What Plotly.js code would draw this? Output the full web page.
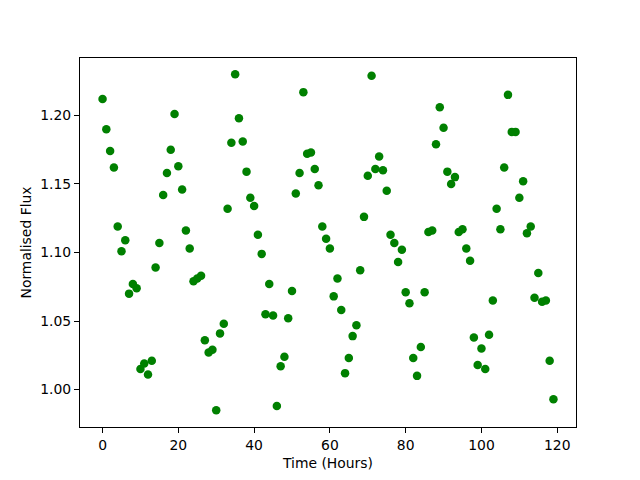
<!DOCTYPE html>
<html>
<head>
<meta charset="utf-8">
<script src="https://cdn.plot.ly/plotly-3.0.1.min.js"></script>
<style>html,body{margin:0;padding:0;background:#fff;}</style>
</head>
<body>
<div id="chart" style="width:640px;height:480px;"></div>
<script>
const timeHours = Array.from({length: 120}, (_, i) => i);
const normFlux = [
  1.212, 1.190, 1.174, 1.162, 1.119, 1.101, 1.109, 1.070, 1.077, 1.074,
  1.015, 1.019, 1.011, 1.021, 1.089, 1.107, 1.142, 1.158, 1.175, 1.201,
  1.163, 1.146, 1.116, 1.103, 1.079, 1.081, 1.083, 1.036, 1.027, 1.029,
  0.985, 1.041, 1.048, 1.132, 1.180, 1.230, 1.198, 1.181, 1.159, 1.140,
  1.134, 1.113, 1.099, 1.055, 1.077, 1.054, 0.988, 1.017, 1.024, 1.052,
  1.072, 1.143, 1.158, 1.217, 1.172, 1.173, 1.161, 1.149, 1.119, 1.110,
  1.103, 1.068, 1.081, 1.058, 1.012, 1.023, 1.039, 1.047, 1.087, 1.126,
  1.156, 1.229, 1.161, 1.170, 1.160, 1.145, 1.113, 1.107, 1.093, 1.102,
  1.071, 1.063, 1.023, 1.010, 1.031, 1.071, 1.115, 1.116, 1.179, 1.206,
  1.191, 1.159, 1.150, 1.155, 1.115, 1.117, 1.103, 1.094, 1.038, 1.018,
  1.030, 1.015, 1.040, 1.065, 1.132, 1.117, 1.162, 1.215, 1.188, 1.188,
  1.140, 1.152, 1.114, 1.119, 1.067, 1.085, 1.064, 1.065, 1.021, 0.993
];
const xTicks = [0, 20, 40, 60, 80, 100, 120];
const yTicks = [1.00, 1.05, 1.10, 1.15, 1.20];

const font = {family: 'DejaVu Sans', size: 13.9, color: '#000'};
const axisCommon = {
  showline: true, linecolor: '#000', linewidth: 1, mirror: true,
  ticks: 'outside', ticklen: 5, tickwidth: 1, tickcolor: '#000',
  showgrid: false, zeroline: false, tickfont: font
};
Plotly.newPlot('chart', [{
  x: timeHours, y: normFlux, type: 'scatter', mode: 'markers',
  marker: {color: '#008000', size: 8.5}
}], {
  width: 640, height: 480,
  margin: {l: 80, r: 64, t: 58, b: 53},
  paper_bgcolor: '#fff', plot_bgcolor: '#fff',
  font: font, showlegend: false,
  xaxis: Object.assign({}, axisCommon, {
    range: [-5.95, 124.95], tickvals: xTicks, ticktext: xTicks.map(String),
    title: {text: 'Time (Hours)', font: font, standoff: 6}
  }),
  yaxis: Object.assign({}, axisCommon, {
    range: [0.9727, 1.2419], tickvals: yTicks, ticktext: yTicks.map(v => v.toFixed(2)),
    title: {text: 'Normalised Flux', font: font, standoff: 5}
  })
}, {displayModeBar: false, staticPlot: true});
</script>
</body>
</html>
